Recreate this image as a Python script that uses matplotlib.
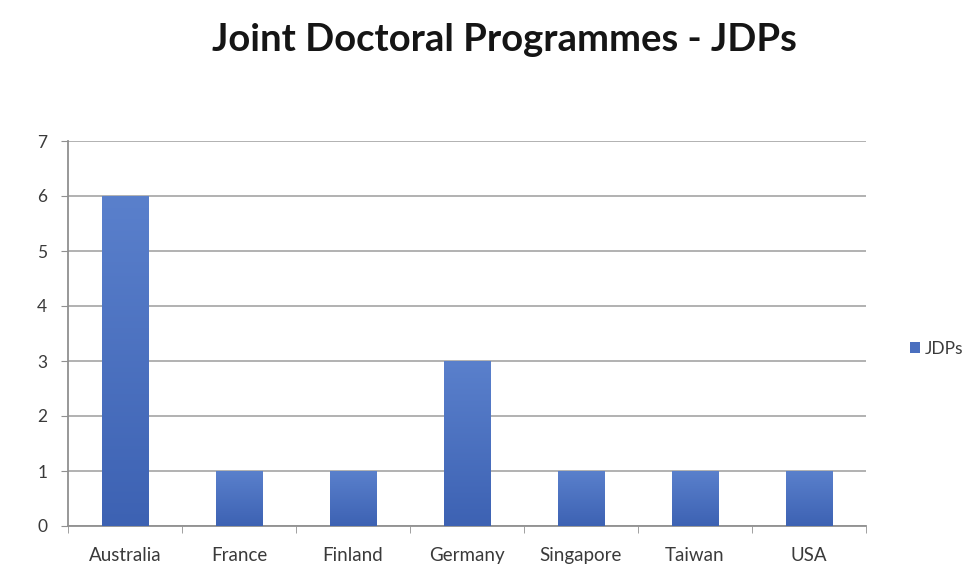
import numpy as np
import matplotlib.pyplot as plt
from matplotlib.colors import LinearSegmentedColormap

countries = ["Australia", "France", "Finland", "Germany", "Singapore", "Taiwan", "USA"]
jdps = [6, 1, 1, 3, 1, 1, 1]

plt.rcParams['font.family'] = ['Lato', 'DejaVu Sans']

fig = plt.figure(figsize=(9.74, 5.72), dpi=100)
ax = fig.add_axes([68 / 974, 1 - 526 / 572, 798 / 974, 385 / 572])

x = np.arange(len(countries))
bars = ax.bar(x, jdps, width=0.41, color="#4a6fbf", zorder=2)

# vertical gradient fill for each bar
cmap = LinearSegmentedColormap.from_list("blu", ["#3d62b3", "#5a80cc"])
grad = np.linspace(0, 1, 256).reshape(-1, 1)
for b in bars:
    x0, y0 = b.get_x(), b.get_y()
    w, h = b.get_width(), b.get_height()
    im = ax.imshow(grad, cmap=cmap, aspect="auto", origin="lower",
                   extent=[x0, x0 + w, y0, y0 + h], zorder=3)
    im.set_clip_path(b)

ax.set_xlim(-0.5, len(countries) - 0.5)
ax.set_ylim(0, 7)
ax.set_yticks(range(0, 8))
ax.set_xticks(x)
ax.set_xticklabels(countries)
ax.set_xticks(np.arange(-0.5, len(countries)), minor=True)
ax.tick_params(axis="x", which="major", length=0, pad=15, labelsize=13.5, labelcolor="#3a3a3a")
ax.tick_params(axis="x", which="minor", length=5, color="#909090")
ax.tick_params(axis="y", length=5, color="#909090", pad=10, labelsize=12.5, labelcolor="#3a3a3a")

ax.grid(axis="y", color="#ababab", linewidth=1.3, zorder=0)
for s in ["top", "right"]:
    ax.spines[s].set_visible(False)
for s in ["left", "bottom"]:
    ax.spines[s].set_color("#909090")
    ax.spines[s].set_linewidth(1.3)

fig.text(0.518, 1 - 40 / 572, "Joint Doctoral Programmes - JDPs", ha="center", va="center",
         fontsize=27.5, fontweight="bold", color="#151515")

ax.legend([bars[0]], ["JDPs"], loc="center left", bbox_to_anchor=(1.035, 0.46),
          frameon=False, handlelength=0.6, handleheight=0.6, handletextpad=0.3,
          fontsize=12.5, labelcolor="#3a3a3a")

fig.savefig("out.png", dpi=100, facecolor="white")
